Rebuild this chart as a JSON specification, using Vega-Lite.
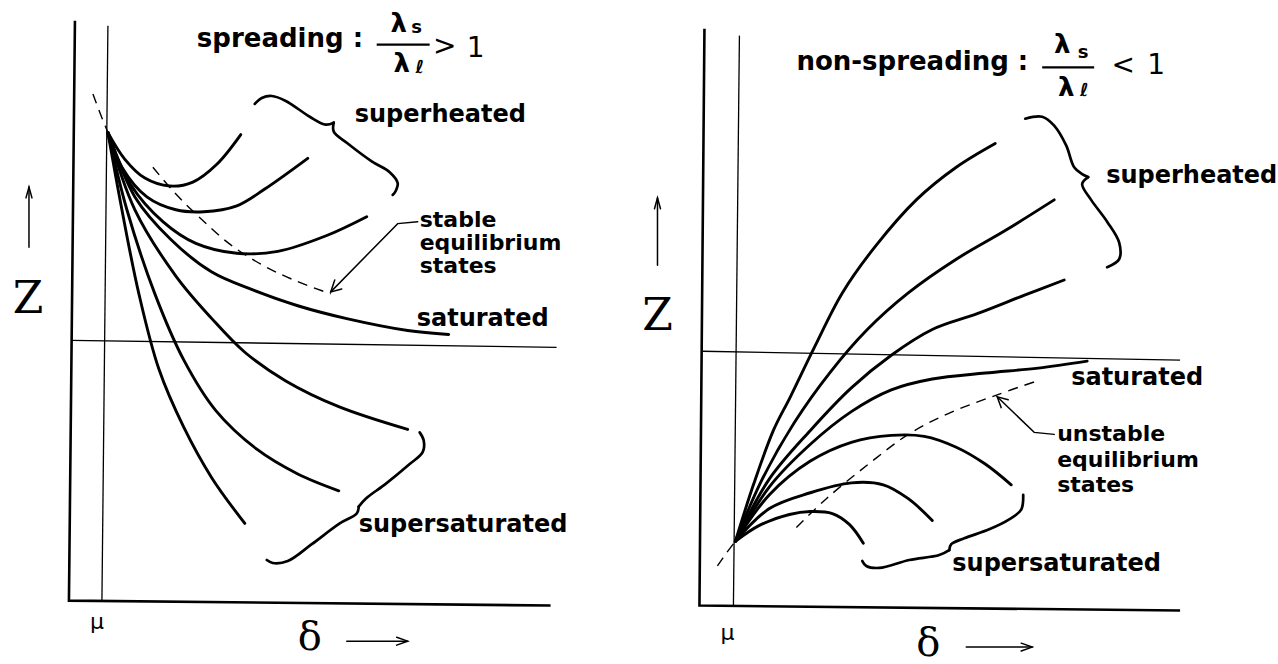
{
  "$schema": "https://vega.github.io/schema/vega-lite/v6.json",
  "width": 1278,
  "height": 664,
  "autosize": {"type": "fit", "contains": "padding"},
  "padding": 0,
  "background": "white",
  "config": {"view": {"stroke": null}},
  "datasets": {
    "strokes": [
      {"id": "L_axes", "kind": "axis", "i": 0, "x": 75, "y": 21},
      {"id": "L_axes", "kind": "axis", "i": 1, "x": 69, "y": 607},
      {"id": "L_axes", "kind": "axis", "i": 2, "x": 551, "y": 612},
      {"id": "R_axes", "kind": "axis", "i": 0, "x": 705, "y": 29},
      {"id": "R_axes", "kind": "axis", "i": 1, "x": 700, "y": 612},
      {"id": "R_axes", "kind": "axis", "i": 2, "x": 1181, "y": 617},

      {"id": "L_mu", "kind": "guide", "i": 0, "x": 108, "y": 26},
      {"id": "L_mu", "kind": "guide", "i": 1, "x": 102, "y": 608},
      {"id": "L_level", "kind": "guide", "i": 0, "x": 71, "y": 344},
      {"id": "L_level", "kind": "guide", "i": 1, "x": 557, "y": 351},
      {"id": "R_mu", "kind": "guide", "i": 0, "x": 740, "y": 36},
      {"id": "R_mu", "kind": "guide", "i": 1, "x": 734, "y": 612},
      {"id": "R_level", "kind": "guide", "i": 0, "x": 703, "y": 355},
      {"id": "R_level", "kind": "guide", "i": 1, "x": 1181, "y": 364},

      {"id": "L_h1", "kind": "curve", "i": 0, "x": 108, "y": 134},
      {"id": "L_h1", "kind": "curve", "i": 1, "x": 125, "y": 161},
      {"id": "L_h1", "kind": "curve", "i": 2, "x": 145, "y": 180},
      {"id": "L_h1", "kind": "curve", "i": 3, "x": 170, "y": 188},
      {"id": "L_h1", "kind": "curve", "i": 4, "x": 193, "y": 184},
      {"id": "L_h1", "kind": "curve", "i": 5, "x": 217, "y": 166},
      {"id": "L_h1", "kind": "curve", "i": 6, "x": 241, "y": 136},

      {"id": "L_h2", "kind": "curve", "i": 0, "x": 108, "y": 134},
      {"id": "L_h2", "kind": "curve", "i": 1, "x": 122, "y": 169},
      {"id": "L_h2", "kind": "curve", "i": 2, "x": 147, "y": 199},
      {"id": "L_h2", "kind": "curve", "i": 3, "x": 176, "y": 212},
      {"id": "L_h2", "kind": "curve", "i": 4, "x": 204, "y": 214},
      {"id": "L_h2", "kind": "curve", "i": 5, "x": 237, "y": 208},
      {"id": "L_h2", "kind": "curve", "i": 6, "x": 265, "y": 191},
      {"id": "L_h2", "kind": "curve", "i": 7, "x": 308, "y": 160},

      {"id": "L_h3", "kind": "curve", "i": 0, "x": 108, "y": 134},
      {"id": "L_h3", "kind": "curve", "i": 1, "x": 131, "y": 187},
      {"id": "L_h3", "kind": "curve", "i": 2, "x": 163, "y": 224},
      {"id": "L_h3", "kind": "curve", "i": 3, "x": 196, "y": 246},
      {"id": "L_h3", "kind": "curve", "i": 4, "x": 237, "y": 256},
      {"id": "L_h3", "kind": "curve", "i": 5, "x": 278, "y": 254},
      {"id": "L_h3", "kind": "curve", "i": 6, "x": 327, "y": 238},
      {"id": "L_h3", "kind": "curve", "i": 7, "x": 367, "y": 219},

      {"id": "L_sat", "kind": "curve", "i": 0, "x": 108, "y": 134},
      {"id": "L_sat", "kind": "curve", "i": 1, "x": 135, "y": 199},
      {"id": "L_sat", "kind": "curve", "i": 2, "x": 171, "y": 242},
      {"id": "L_sat", "kind": "curve", "i": 3, "x": 212, "y": 275},
      {"id": "L_sat", "kind": "curve", "i": 4, "x": 253, "y": 293},
      {"id": "L_sat", "kind": "curve", "i": 5, "x": 298, "y": 309},
      {"id": "L_sat", "kind": "curve", "i": 6, "x": 347, "y": 322},
      {"id": "L_sat", "kind": "curve", "i": 7, "x": 408, "y": 334},
      {"id": "L_sat", "kind": "curve", "i": 8, "x": 449, "y": 338},

      {"id": "L_s1", "kind": "curve", "i": 0, "x": 108, "y": 134},
      {"id": "L_s1", "kind": "curve", "i": 1, "x": 135, "y": 212},
      {"id": "L_s1", "kind": "curve", "i": 2, "x": 176, "y": 279},
      {"id": "L_s1", "kind": "curve", "i": 3, "x": 212, "y": 322},
      {"id": "L_s1", "kind": "curve", "i": 4, "x": 245, "y": 356},
      {"id": "L_s1", "kind": "curve", "i": 5, "x": 286, "y": 385},
      {"id": "L_s1", "kind": "curve", "i": 6, "x": 339, "y": 411},
      {"id": "L_s1", "kind": "curve", "i": 7, "x": 408, "y": 434},

      {"id": "L_s2", "kind": "curve", "i": 0, "x": 108, "y": 134},
      {"id": "L_s2", "kind": "curve", "i": 1, "x": 127, "y": 212},
      {"id": "L_s2", "kind": "curve", "i": 2, "x": 155, "y": 297},
      {"id": "L_s2", "kind": "curve", "i": 3, "x": 184, "y": 364},
      {"id": "L_s2", "kind": "curve", "i": 4, "x": 216, "y": 415},
      {"id": "L_s2", "kind": "curve", "i": 5, "x": 257, "y": 454},
      {"id": "L_s2", "kind": "curve", "i": 6, "x": 298, "y": 479},
      {"id": "L_s2", "kind": "curve", "i": 7, "x": 339, "y": 496},

      {"id": "L_s3", "kind": "curve", "i": 0, "x": 108, "y": 134},
      {"id": "L_s3", "kind": "curve", "i": 1, "x": 122, "y": 212},
      {"id": "L_s3", "kind": "curve", "i": 2, "x": 139, "y": 297},
      {"id": "L_s3", "kind": "curve", "i": 3, "x": 159, "y": 373},
      {"id": "L_s3", "kind": "curve", "i": 4, "x": 184, "y": 432},
      {"id": "L_s3", "kind": "curve", "i": 5, "x": 212, "y": 483},
      {"id": "L_s3", "kind": "curve", "i": 6, "x": 245, "y": 529},

      {"id": "R_h1", "kind": "curve", "i": 0, "x": 736, "y": 547},
      {"id": "R_h1", "kind": "curve", "i": 1, "x": 754, "y": 490},
      {"id": "R_h1", "kind": "curve", "i": 2, "x": 774, "y": 435},
      {"id": "R_h1", "kind": "curve", "i": 3, "x": 791, "y": 401},
      {"id": "R_h1", "kind": "curve", "i": 4, "x": 815, "y": 351},
      {"id": "R_h1", "kind": "curve", "i": 5, "x": 843, "y": 296},
      {"id": "R_h1", "kind": "curve", "i": 6, "x": 876, "y": 249},
      {"id": "R_h1", "kind": "curve", "i": 7, "x": 917, "y": 202},
      {"id": "R_h1", "kind": "curve", "i": 8, "x": 957, "y": 169},
      {"id": "R_h1", "kind": "curve", "i": 9, "x": 996, "y": 145},

      {"id": "R_h2", "kind": "curve", "i": 0, "x": 736, "y": 547},
      {"id": "R_h2", "kind": "curve", "i": 1, "x": 762, "y": 486},
      {"id": "R_h2", "kind": "curve", "i": 2, "x": 795, "y": 427},
      {"id": "R_h2", "kind": "curve", "i": 3, "x": 831, "y": 376},
      {"id": "R_h2", "kind": "curve", "i": 4, "x": 868, "y": 333},
      {"id": "R_h2", "kind": "curve", "i": 5, "x": 909, "y": 296},
      {"id": "R_h2", "kind": "curve", "i": 6, "x": 957, "y": 262},
      {"id": "R_h2", "kind": "curve", "i": 7, "x": 1006, "y": 233},
      {"id": "R_h2", "kind": "curve", "i": 8, "x": 1055, "y": 202},

      {"id": "R_h3", "kind": "curve", "i": 0, "x": 736, "y": 547},
      {"id": "R_h3", "kind": "curve", "i": 1, "x": 770, "y": 484},
      {"id": "R_h3", "kind": "curve", "i": 2, "x": 811, "y": 435},
      {"id": "R_h3", "kind": "curve", "i": 3, "x": 852, "y": 392},
      {"id": "R_h3", "kind": "curve", "i": 4, "x": 892, "y": 359},
      {"id": "R_h3", "kind": "curve", "i": 5, "x": 933, "y": 333},
      {"id": "R_h3", "kind": "curve", "i": 6, "x": 978, "y": 317},
      {"id": "R_h3", "kind": "curve", "i": 7, "x": 1026, "y": 298},
      {"id": "R_h3", "kind": "curve", "i": 8, "x": 1065, "y": 283},

      {"id": "R_sat", "kind": "curve", "i": 0, "x": 736, "y": 547},
      {"id": "R_sat", "kind": "curve", "i": 1, "x": 770, "y": 492},
      {"id": "R_sat", "kind": "curve", "i": 2, "x": 811, "y": 449},
      {"id": "R_sat", "kind": "curve", "i": 3, "x": 852, "y": 416},
      {"id": "R_sat", "kind": "curve", "i": 4, "x": 892, "y": 394},
      {"id": "R_sat", "kind": "curve", "i": 5, "x": 933, "y": 383},
      {"id": "R_sat", "kind": "curve", "i": 6, "x": 986, "y": 377},
      {"id": "R_sat", "kind": "curve", "i": 7, "x": 1039, "y": 372},
      {"id": "R_sat", "kind": "curve", "i": 8, "x": 1088, "y": 365},

      {"id": "R_s1", "kind": "curve", "i": 0, "x": 736, "y": 547},
      {"id": "R_s1", "kind": "curve", "i": 1, "x": 770, "y": 500},
      {"id": "R_s1", "kind": "curve", "i": 2, "x": 811, "y": 466},
      {"id": "R_s1", "kind": "curve", "i": 3, "x": 852, "y": 447},
      {"id": "R_s1", "kind": "curve", "i": 4, "x": 892, "y": 440},
      {"id": "R_s1", "kind": "curve", "i": 5, "x": 925, "y": 441},
      {"id": "R_s1", "kind": "curve", "i": 6, "x": 957, "y": 452},
      {"id": "R_s1", "kind": "curve", "i": 7, "x": 986, "y": 469},
      {"id": "R_s1", "kind": "curve", "i": 8, "x": 1012, "y": 490},

      {"id": "R_s2", "kind": "curve", "i": 0, "x": 736, "y": 547},
      {"id": "R_s2", "kind": "curve", "i": 1, "x": 770, "y": 514},
      {"id": "R_s2", "kind": "curve", "i": 2, "x": 811, "y": 498},
      {"id": "R_s2", "kind": "curve", "i": 3, "x": 852, "y": 488},
      {"id": "R_s2", "kind": "curve", "i": 4, "x": 884, "y": 490},
      {"id": "R_s2", "kind": "curve", "i": 5, "x": 909, "y": 504},
      {"id": "R_s2", "kind": "curve", "i": 6, "x": 933, "y": 526},

      {"id": "R_s3", "kind": "curve", "i": 0, "x": 736, "y": 547},
      {"id": "R_s3", "kind": "curve", "i": 1, "x": 760, "y": 531},
      {"id": "R_s3", "kind": "curve", "i": 2, "x": 790, "y": 520},
      {"id": "R_s3", "kind": "curve", "i": 3, "x": 811, "y": 517},
      {"id": "R_s3", "kind": "curve", "i": 4, "x": 833, "y": 519},
      {"id": "R_s3", "kind": "curve", "i": 5, "x": 850, "y": 530},
      {"id": "R_s3", "kind": "curve", "i": 6, "x": 864, "y": 549},

      {"id": "L_dash_a", "kind": "dashed", "i": 0, "x": 93, "y": 95},
      {"id": "L_dash_a", "kind": "dashed", "i": 1, "x": 100, "y": 114},
      {"id": "L_dash_a", "kind": "dashed", "i": 2, "x": 108, "y": 134},
      {"id": "L_dash_b", "kind": "dashed", "i": 0, "x": 153, "y": 169},
      {"id": "L_dash_b", "kind": "dashed", "i": 1, "x": 175, "y": 195},
      {"id": "L_dash_b", "kind": "dashed", "i": 2, "x": 200, "y": 220},
      {"id": "L_dash_b", "kind": "dashed", "i": 3, "x": 229, "y": 246},
      {"id": "L_dash_b", "kind": "dashed", "i": 4, "x": 261, "y": 267},
      {"id": "L_dash_b", "kind": "dashed", "i": 5, "x": 294, "y": 283},
      {"id": "L_dash_b", "kind": "dashed", "i": 6, "x": 331, "y": 297},
      {"id": "R_dash_a", "kind": "dashed", "i": 0, "x": 718, "y": 572},
      {"id": "R_dash_a", "kind": "dashed", "i": 1, "x": 727, "y": 559},
      {"id": "R_dash_a", "kind": "dashed", "i": 2, "x": 736, "y": 547},
      {"id": "R_dash_b", "kind": "dashed", "i": 0, "x": 797, "y": 533},
      {"id": "R_dash_b", "kind": "dashed", "i": 1, "x": 827, "y": 504},
      {"id": "R_dash_b", "kind": "dashed", "i": 2, "x": 868, "y": 470},
      {"id": "R_dash_b", "kind": "dashed", "i": 3, "x": 909, "y": 439},
      {"id": "R_dash_b", "kind": "dashed", "i": 4, "x": 949, "y": 418},
      {"id": "R_dash_b", "kind": "dashed", "i": 5, "x": 998, "y": 399},
      {"id": "R_dash_b", "kind": "dashed", "i": 6, "x": 1035, "y": 386},

      {"id": "L_bh_a", "kind": "brace", "i": 0, "x": 255, "y": 105},
      {"id": "L_bh_a", "kind": "brace", "i": 1, "x": 262, "y": 99},
      {"id": "L_bh_a", "kind": "brace", "i": 2, "x": 272, "y": 97},
      {"id": "L_bh_a", "kind": "brace", "i": 3, "x": 286, "y": 102},
      {"id": "L_bh_a", "kind": "brace", "i": 4, "x": 310, "y": 118},
      {"id": "L_bh_a", "kind": "brace", "i": 5, "x": 326, "y": 126},
      {"id": "L_bh_a", "kind": "brace", "i": 6, "x": 334, "y": 124},
      {"id": "L_bh_b", "kind": "brace", "i": 0, "x": 334, "y": 124},
      {"id": "L_bh_b", "kind": "brace", "i": 1, "x": 334, "y": 133},
      {"id": "L_bh_b", "kind": "brace", "i": 2, "x": 348, "y": 145},
      {"id": "L_bh_b", "kind": "brace", "i": 3, "x": 372, "y": 163},
      {"id": "L_bh_b", "kind": "brace", "i": 4, "x": 390, "y": 174},
      {"id": "L_bh_b", "kind": "brace", "i": 5, "x": 398, "y": 185},
      {"id": "L_bh_b", "kind": "brace", "i": 6, "x": 396, "y": 193},
      {"id": "L_bh_b", "kind": "brace", "i": 7, "x": 393, "y": 197},

      {"id": "L_bs_a", "kind": "brace", "i": 0, "x": 420, "y": 437},
      {"id": "L_bs_a", "kind": "brace", "i": 1, "x": 424, "y": 445},
      {"id": "L_bs_a", "kind": "brace", "i": 2, "x": 423, "y": 457},
      {"id": "L_bs_a", "kind": "brace", "i": 3, "x": 410, "y": 469},
      {"id": "L_bs_a", "kind": "brace", "i": 4, "x": 386, "y": 489},
      {"id": "L_bs_a", "kind": "brace", "i": 5, "x": 366, "y": 504},
      {"id": "L_bs_a", "kind": "brace", "i": 6, "x": 359, "y": 512},
      {"id": "L_bs_b", "kind": "brace", "i": 0, "x": 359, "y": 512},
      {"id": "L_bs_b", "kind": "brace", "i": 1, "x": 357, "y": 519},
      {"id": "L_bs_b", "kind": "brace", "i": 2, "x": 340, "y": 529},
      {"id": "L_bs_b", "kind": "brace", "i": 3, "x": 312, "y": 550},
      {"id": "L_bs_b", "kind": "brace", "i": 4, "x": 288, "y": 567},
      {"id": "L_bs_b", "kind": "brace", "i": 5, "x": 273, "y": 569},
      {"id": "L_bs_b", "kind": "brace", "i": 6, "x": 267, "y": 566},

      {"id": "R_bh_a", "kind": "brace", "i": 0, "x": 1026, "y": 120},
      {"id": "R_bh_a", "kind": "brace", "i": 1, "x": 1043, "y": 118},
      {"id": "R_bh_a", "kind": "brace", "i": 2, "x": 1055, "y": 127},
      {"id": "R_bh_a", "kind": "brace", "i": 3, "x": 1067, "y": 147},
      {"id": "R_bh_a", "kind": "brace", "i": 4, "x": 1075, "y": 169},
      {"id": "R_bh_a", "kind": "brace", "i": 5, "x": 1083, "y": 176},
      {"id": "R_bh_a", "kind": "brace", "i": 6, "x": 1089, "y": 179},
      {"id": "R_bh_b", "kind": "brace", "i": 0, "x": 1089, "y": 179},
      {"id": "R_bh_b", "kind": "brace", "i": 1, "x": 1083, "y": 186},
      {"id": "R_bh_b", "kind": "brace", "i": 2, "x": 1092, "y": 202},
      {"id": "R_bh_b", "kind": "brace", "i": 3, "x": 1108, "y": 224},
      {"id": "R_bh_b", "kind": "brace", "i": 4, "x": 1120, "y": 245},
      {"id": "R_bh_b", "kind": "brace", "i": 5, "x": 1120, "y": 262},
      {"id": "R_bh_b", "kind": "brace", "i": 6, "x": 1108, "y": 270},

      {"id": "R_bs_a", "kind": "brace", "i": 0, "x": 1024, "y": 500},
      {"id": "R_bs_a", "kind": "brace", "i": 1, "x": 1022, "y": 515},
      {"id": "R_bs_a", "kind": "brace", "i": 2, "x": 1010, "y": 525},
      {"id": "R_bs_a", "kind": "brace", "i": 3, "x": 990, "y": 535},
      {"id": "R_bs_a", "kind": "brace", "i": 4, "x": 965, "y": 544},
      {"id": "R_bs_a", "kind": "brace", "i": 5, "x": 952, "y": 550},
      {"id": "R_bs_a", "kind": "brace", "i": 6, "x": 950, "y": 556},
      {"id": "R_bs_b", "kind": "brace", "i": 0, "x": 950, "y": 556},
      {"id": "R_bs_b", "kind": "brace", "i": 1, "x": 940, "y": 561},
      {"id": "R_bs_b", "kind": "brace", "i": 2, "x": 910, "y": 566},
      {"id": "R_bs_b", "kind": "brace", "i": 3, "x": 880, "y": 574},
      {"id": "R_bs_b", "kind": "brace", "i": 4, "x": 867, "y": 572},
      {"id": "R_bs_b", "kind": "brace", "i": 5, "x": 863, "y": 567},

      {"id": "L_up", "kind": "pointer", "i": 0, "x": 29, "y": 250},
      {"id": "L_up", "kind": "pointer", "i": 1, "x": 29, "y": 189},
      {"id": "L_up_head", "kind": "pointer", "i": 0, "x": 26, "y": 200},
      {"id": "L_up_head", "kind": "pointer", "i": 1, "x": 29, "y": 189},
      {"id": "L_up_head", "kind": "pointer", "i": 2, "x": 32, "y": 200},
      {"id": "L_right", "kind": "pointer", "i": 0, "x": 347, "y": 648},
      {"id": "L_right", "kind": "pointer", "i": 1, "x": 408, "y": 648},
      {"id": "L_right_head", "kind": "pointer", "i": 0, "x": 397, "y": 644},
      {"id": "L_right_head", "kind": "pointer", "i": 1, "x": 408, "y": 648},
      {"id": "L_right_head", "kind": "pointer", "i": 2, "x": 397, "y": 652},
      {"id": "R_up", "kind": "pointer", "i": 0, "x": 658, "y": 268},
      {"id": "R_up", "kind": "pointer", "i": 1, "x": 658, "y": 200},
      {"id": "R_up_head", "kind": "pointer", "i": 0, "x": 655, "y": 211},
      {"id": "R_up_head", "kind": "pointer", "i": 1, "x": 658, "y": 200},
      {"id": "R_up_head", "kind": "pointer", "i": 2, "x": 661, "y": 211},
      {"id": "R_right", "kind": "pointer", "i": 0, "x": 967, "y": 654},
      {"id": "R_right", "kind": "pointer", "i": 1, "x": 1033, "y": 654},
      {"id": "R_right_head", "kind": "pointer", "i": 0, "x": 1022, "y": 650},
      {"id": "R_right_head", "kind": "pointer", "i": 1, "x": 1033, "y": 654},
      {"id": "R_right_head", "kind": "pointer", "i": 2, "x": 1022, "y": 658},
      {"id": "L_stable", "kind": "pointer", "i": 0, "x": 418, "y": 224},
      {"id": "L_stable", "kind": "pointer", "i": 1, "x": 398, "y": 226},
      {"id": "L_stable", "kind": "pointer", "i": 2, "x": 331, "y": 295},
      {"id": "L_stable_head", "kind": "pointer", "i": 0, "x": 342, "y": 292},
      {"id": "L_stable_head", "kind": "pointer", "i": 1, "x": 331, "y": 295},
      {"id": "L_stable_head", "kind": "pointer", "i": 2, "x": 335, "y": 283},
      {"id": "R_unstable", "kind": "pointer", "i": 0, "x": 1055, "y": 439},
      {"id": "R_unstable", "kind": "pointer", "i": 1, "x": 1035, "y": 437},
      {"id": "R_unstable", "kind": "pointer", "i": 2, "x": 998, "y": 401},
      {"id": "R_unstable_head", "kind": "pointer", "i": 0, "x": 1009, "y": 404},
      {"id": "R_unstable_head", "kind": "pointer", "i": 1, "x": 998, "y": 401},
      {"id": "R_unstable_head", "kind": "pointer", "i": 2, "x": 1002, "y": 412},

      {"id": "L_bar", "kind": "bar", "i": 0, "x": 377, "y": 45},
      {"id": "L_bar", "kind": "bar", "i": 1, "x": 430, "y": 45},
      {"id": "R_bar", "kind": "bar", "i": 0, "x": 1043, "y": 68},
      {"id": "R_bar", "kind": "bar", "i": 1, "x": 1095, "y": 68}
    ],
    "texts": [
      {"role": "label", "x": 355, "y": 116, "text": "superheated"},
      {"role": "label", "x": 417, "y": 322, "text": "saturated"},
      {"role": "label", "x": 359, "y": 531, "text": "supersaturated"},
      {"role": "label", "x": 1107, "y": 178, "text": "superheated"},
      {"role": "label", "x": 1072, "y": 382, "text": "saturated"},
      {"role": "label", "x": 953, "y": 570, "text": "supersaturated"},
      {"role": "note", "x": 420, "y": 222, "text": "stable"},
      {"role": "note", "x": 420, "y": 246, "text": "equilibrium"},
      {"role": "note", "x": 420, "y": 269, "text": "states"},
      {"role": "note", "x": 1058, "y": 439, "text": "unstable"},
      {"role": "note", "x": 1058, "y": 465, "text": "equilibrium"},
      {"role": "note", "x": 1058, "y": 490, "text": "states"},
      {"role": "title", "x": 197, "y": 39, "text": "spreading :"},
      {"role": "title", "x": 797, "y": 63, "text": "non-spreading :"},
      {"role": "lambda", "x": 399, "y": 24, "text": "λ"},
      {"role": "lambda", "x": 402, "y": 65, "text": "λ"},
      {"role": "lambda", "x": 1063, "y": 45, "text": "λ"},
      {"role": "lambda", "x": 1067, "y": 89, "text": "λ"},
      {"role": "sub", "x": 417, "y": 28, "text": "s"},
      {"role": "sub", "x": 420, "y": 69, "text": "ℓ"},
      {"role": "sub", "x": 1084, "y": 54, "text": "s"},
      {"role": "sub", "x": 1085, "y": 92, "text": "ℓ"},
      {"role": "rel", "x": 445, "y": 48, "text": ">"},
      {"role": "rel", "x": 476, "y": 50, "text": "1"},
      {"role": "rel", "x": 1124, "y": 67, "text": "<"},
      {"role": "rel", "x": 1157, "y": 67, "text": "1"},
      {"role": "axisname", "x": 28, "y": 303, "text": "Z"},
      {"role": "axisname", "x": 658, "y": 320, "text": "Z"},
      {"role": "delta", "x": 310, "y": 645, "text": "δ"},
      {"role": "delta", "x": 929, "y": 651, "text": "δ"},
      {"role": "mu", "x": 97, "y": 629, "text": "μ"},
      {"role": "mu", "x": 728, "y": 640, "text": "μ"}
    ]
  },
  "encoding": {
    "x": {"field": "x", "type": "quantitative", "axis": null, "scale": {"domain": [0, 1278], "nice": false, "zero": false}},
    "y": {"field": "y", "type": "quantitative", "axis": null, "scale": {"domain": [0, 664], "nice": false, "zero": false, "reverse": true}}
  },
  "layer": [
    {
      "data": {"name": "strokes"},
      "transform": [{"filter": "datum.kind === 'guide'"}],
      "mark": {"type": "line", "color": "black", "strokeWidth": 1.3},
      "encoding": {"detail": {"field": "id"}, "order": {"field": "i", "type": "quantitative"}}
    },
    {
      "data": {"name": "strokes"},
      "transform": [{"filter": "datum.kind === 'axis'"}],
      "mark": {"type": "line", "color": "black", "strokeWidth": 2.6, "strokeJoin": "miter"},
      "encoding": {"detail": {"field": "id"}, "order": {"field": "i", "type": "quantitative"}}
    },
    {
      "data": {"name": "strokes"},
      "transform": [{"filter": "datum.kind === 'dashed'"}],
      "mark": {"type": "line", "color": "black", "strokeWidth": 1.4, "strokeDash": [10, 7], "interpolate": "catmull-rom"},
      "encoding": {"detail": {"field": "id"}, "order": {"field": "i", "type": "quantitative"}}
    },
    {
      "data": {"name": "strokes"},
      "transform": [{"filter": "datum.kind === 'curve'"}],
      "mark": {"type": "line", "color": "black", "strokeWidth": 2.9, "strokeCap": "round", "interpolate": "catmull-rom"},
      "encoding": {"detail": {"field": "id"}, "order": {"field": "i", "type": "quantitative"}}
    },
    {
      "data": {"name": "strokes"},
      "transform": [{"filter": "datum.kind === 'brace'"}],
      "mark": {"type": "line", "color": "black", "strokeWidth": 2.7, "strokeCap": "round", "interpolate": "catmull-rom"},
      "encoding": {"detail": {"field": "id"}, "order": {"field": "i", "type": "quantitative"}}
    },
    {
      "data": {"name": "strokes"},
      "transform": [{"filter": "datum.kind === 'pointer'"}],
      "mark": {"type": "line", "color": "black", "strokeWidth": 1.5, "strokeCap": "round"},
      "encoding": {"detail": {"field": "id"}, "order": {"field": "i", "type": "quantitative"}}
    },
    {
      "data": {"name": "strokes"},
      "transform": [{"filter": "datum.kind === 'bar'"}],
      "mark": {"type": "line", "color": "black", "strokeWidth": 2.2},
      "encoding": {"detail": {"field": "id"}, "order": {"field": "i", "type": "quantitative"}}
    },
    {
      "data": {"name": "texts"},
      "transform": [{"filter": "datum.role === 'label'"}],
      "mark": {"type": "text", "align": "left", "baseline": "middle", "font": "DejaVu Sans", "fontWeight": "bold", "fontSize": 24, "color": "black"},
      "encoding": {"text": {"field": "text"}}
    },
    {
      "data": {"name": "texts"},
      "transform": [{"filter": "datum.role === 'note'"}],
      "mark": {"type": "text", "align": "left", "baseline": "middle", "font": "DejaVu Sans", "fontWeight": "bold", "fontSize": 22, "color": "black"},
      "encoding": {"text": {"field": "text"}}
    },
    {
      "data": {"name": "texts"},
      "transform": [{"filter": "datum.role === 'title'"}],
      "mark": {"type": "text", "align": "left", "baseline": "middle", "font": "DejaVu Sans", "fontWeight": "bold", "fontSize": 26, "color": "black"},
      "encoding": {"text": {"field": "text"}}
    },
    {
      "data": {"name": "texts"},
      "transform": [{"filter": "datum.role === 'lambda'"}],
      "mark": {"type": "text", "align": "center", "baseline": "middle", "font": "DejaVu Sans", "fontWeight": "bold", "fontSize": 26, "color": "black"},
      "encoding": {"text": {"field": "text"}}
    },
    {
      "data": {"name": "texts"},
      "transform": [{"filter": "datum.role === 'sub'"}],
      "mark": {"type": "text", "align": "center", "baseline": "middle", "font": "DejaVu Sans", "fontWeight": "bold", "fontSize": 18, "color": "black"},
      "encoding": {"text": {"field": "text"}}
    },
    {
      "data": {"name": "texts"},
      "transform": [{"filter": "datum.role === 'rel'"}],
      "mark": {"type": "text", "align": "center", "baseline": "middle", "font": "DejaVu Sans", "fontSize": 28, "color": "black"},
      "encoding": {"text": {"field": "text"}}
    },
    {
      "data": {"name": "texts"},
      "transform": [{"filter": "datum.role === 'axisname'"}],
      "mark": {"type": "text", "align": "center", "baseline": "middle", "font": "DejaVu Serif", "fontSize": 44, "color": "black"},
      "encoding": {"text": {"field": "text"}}
    },
    {
      "data": {"name": "texts"},
      "transform": [{"filter": "datum.role === 'delta'"}],
      "mark": {"type": "text", "align": "center", "baseline": "middle", "font": "DejaVu Serif", "fontSize": 40, "color": "black"},
      "encoding": {"text": {"field": "text"}}
    },
    {
      "data": {"name": "texts"},
      "transform": [{"filter": "datum.role === 'mu'"}],
      "mark": {"type": "text", "align": "center", "baseline": "middle", "font": "DejaVu Sans", "fontSize": 22, "color": "black"},
      "encoding": {"text": {"field": "text"}}
    }
  ]
}
